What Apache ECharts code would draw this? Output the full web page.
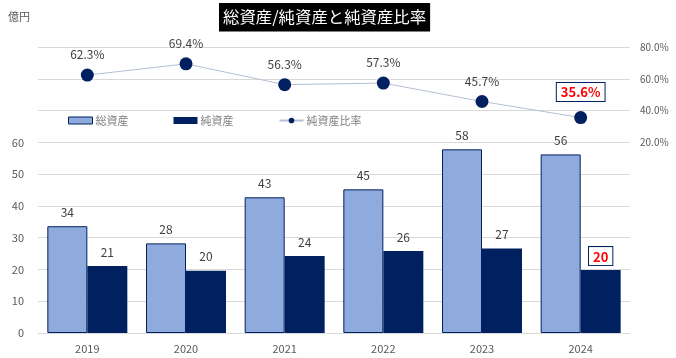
<!DOCTYPE html>
<html><head><meta charset="utf-8">
<script src="https://cdn.jsdelivr.net/npm/echarts@6/dist/echarts.min.js"></script>
<style>html,body{margin:0;padding:0;background:#fff}#c{width:676px;height:358px}</style>
</head><body><div id="c"></div>
<script>
const categories = ['2019','2020','2021','2022','2023','2024'];
const totalAssets = [33.6, 28.2, 42.7, 45.2, 57.8, 56.2];
const netAssets = [21.1, 19.6, 24.2, 25.8, 26.6, 19.8];
const netRatio = [62.3, 69.4, 56.3, 57.3, 45.7, 35.6];
const leftTicks = [0, 10, 20, 30, 40, 50, 60];
const rightTicks = [20, 40, 60, 80];

const FONT = '"Noto Sans CJK JP", sans-serif';
const navy = '#002060';
const light = '#8FAADC';
const labelColor = '#404040';
const highlight = {
  show: true, color: '#FF0000', fontWeight: 'bold', fontSize: 13,
  borderColor: navy, borderWidth: 1, backgroundColor: '#fff', padding: [3, 4, 2, 4]
};

const last = categories.length - 1;
const netData = netAssets.map((v, i) => i === last
  ? { value: v, label: Object.assign({}, highlight, { distance: 5 }) } : v);
const ratioData = netRatio.map((v, i) => i === last
  ? { value: v, label: Object.assign({}, highlight, { distance: 10 }) } : v);

const chart = echarts.init(document.getElementById('c'));
chart.setOption({
  animation: false,
  textStyle: { fontFamily: FONT },
  title: {
    text: '総資産/純資産と純資産比率', left: 219, top: 3,
    backgroundColor: '#000', padding: [6, 4, 6, 4],
    textStyle: { color: '#fff', fontSize: 16.4, fontWeight: 'normal', fontFamily: FONT }
  },
  graphic: [{ type: 'text', left: 8, top: 11, style: { text: '億円', fill: '#595959', font: '11px "Noto Sans CJK JP"' } }],
  legend: {
    left: 68, top: 115, padding: 0, itemGap: 45, itemWidth: 24, itemHeight: 7,
    textStyle: { color: '#7F7F7F', fontSize: 11, fontFamily: FONT, padding: [0, 0, 0, -2] },
    data: [
      { name: '総資産', icon: 'rect', itemStyle: { color: light, borderColor: navy, borderWidth: 1 } },
      { name: '純資産', icon: 'rect' },
      { name: '純資産比率' }
    ]
  },
  grid: { left: 38, right: 46, top: 47, bottom: 25 },
  xAxis: {
    type: 'category', data: categories,
    axisLine: { lineStyle: { color: '#D9D9D9' } }, axisTick: { show: false },
    axisLabel: { color: '#595959', fontSize: 11, margin: 10 }
  },
  yAxis: [
    {
      type: 'value', min: 0, max: 90, interval: 10,
      axisLine: { show: false }, axisTick: { show: false },
      splitLine: { lineStyle: { color: '#D9D9D9' } },
      axisLabel: { color: '#595959', fontSize: 11, margin: 14,
        formatter: v => leftTicks.includes(v) ? String(v) : '' }
    },
    {
      type: 'value', min: -100, max: 80, interval: 20,
      axisLine: { show: false }, axisTick: { show: false }, splitLine: { show: false },
      axisLabel: { color: '#595959', fontSize: 10, margin: 10,
        formatter: v => rightTicks.includes(v) ? v.toFixed(1) + '%' : '' }
    }
  ],
  series: [
    {
      name: '総資産', type: 'bar', data: totalAssets, barWidth: 40, barGap: '0%',
      itemStyle: { color: light, borderColor: navy, borderWidth: 1 },
      label: { show: true, position: 'top', distance: 8, color: labelColor, fontSize: 12,
        formatter: p => Math.round(p.value) }
    },
    {
      name: '純資産', type: 'bar', data: netData, barWidth: 40,
      itemStyle: { color: navy },
      label: { show: true, position: 'top', distance: 8, color: labelColor, fontSize: 12,
        formatter: p => Math.round(p.value) }
    },
    {
      name: '純資産比率', type: 'line', yAxisIndex: 1, data: ratioData,
      symbol: 'circle', symbolSize: 13,
      itemStyle: { color: navy },
      lineStyle: { color: '#B4C0D6', width: 1 },
      label: { show: true, position: 'top', distance: 8, color: labelColor, fontSize: 12,
        formatter: p => p.value.toFixed(1) + '%' },
      z: 5
    }
  ]
});
</script></body></html>
